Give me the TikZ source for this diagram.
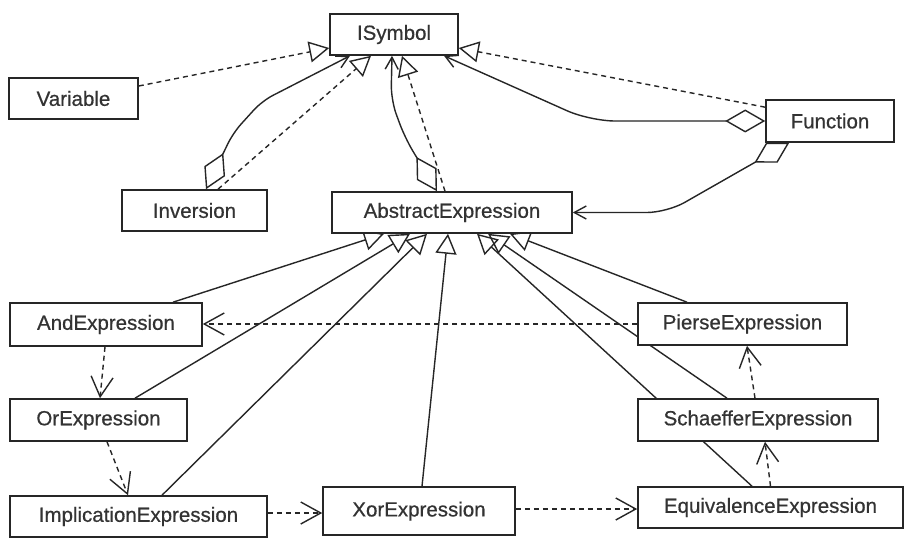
\documentclass[tikz,border=0pt]{standalone}
\usepackage{fontspec}
\setmainfont{Liberation Sans}
\newfontfamily\boxfont[RawFeature={embolden=0.6}]{Liberation Sans}
\usetikzlibrary{arrows.meta,calc}
\pgfdeclarelayer{bg}
\pgfdeclarelayer{edges}
\pgfsetlayers{bg,edges,main}
\begin{document}
\begin{tikzpicture}[x=1pt,y=-1pt,
  box/.style={draw=black!85, line width=1.6pt, fill=white, minimum height=41pt, inner sep=0pt,
    text=black!80, font=\boxfont\fontsize{20.5pt}{24pt}\selectfont},
  conn/.style={line width=1.4pt, draw=black!85},
  gen/.style={conn, -{Triangle[open,length=20pt,width=21pt,line width=1.4pt]}},
  real/.style={gen, dash pattern=on 5pt off 4pt},
  dep/.style={conn, dash pattern=on 5pt off 4pt, -{Straight Barb[length=20pt,width=22pt,line width=1.4pt]}},
  agg/.style={conn, {Diamond[open,length=40pt,width=23pt,line width=1.4pt]}-{Straight Barb[length=12pt,width=13pt,line width=1.4pt]}}
]
\begin{pgfonlayer}{bg}
\fill[white] (0,0) rectangle (907,540);
\end{pgfonlayer}
\useasboundingbox (0,0) rectangle (907,540);

\node[box, minimum width=128pt] (isym) at (394,34.5) {ISymbol};
\node[box, minimum width=129pt] (var) at (73.5,98.5) {Variable};
\node[box, minimum width=145pt] (inv) at (194.5,210.5) {Inversion};
\node[box, minimum width=240pt] (abs) at (452,212.5) {AbstractExpression};
\node[box, minimum width=128pt, minimum height=42pt] (func) at (830,121) {Function};
\node[box, minimum width=192pt, minimum height=43pt] (and) at (106,324.5) {AndExpression};
\node[box, minimum width=177pt, minimum height=42pt] (or) at (98.5,420) {OrExpression};
\node[box, minimum width=257pt] (impl) at (138.5,516.5) {ImplicationExpression};
\node[box, minimum width=192pt, minimum height=48pt, text depth=4pt] (xor) at (419,511) {XorExpression};
\node[box, minimum width=209pt, minimum height=42pt] (pierse) at (742.5,324) {PierseExpression};
\node[box, minimum width=240pt, minimum height=42pt] (sch) at (758,420) {SchaefferExpression};
\node[box, minimum width=265pt] (eq) at (770.5,507.5) {EquivalenceExpression};

\begin{pgfonlayer}{edges}
% to ISymbol
\draw[real] ([yshift=12.5pt]var.east) -- ([yshift=-13.5pt]isym.west);
\draw[real] ([xshift=23.5pt]inv.north) -- ([xshift=-23pt]isym.south);
\draw[agg, rounded corners=12pt] ([xshift=11.5pt]inv.north) -- (233,133) -- (262,101) -- ([xshift=-44pt]isym.south);
\draw[agg, rounded corners=15pt] ([xshift=-15pt]abs.north) -- (405,138) -- (391,100) -- ([xshift=-2pt]isym.south);
\draw[real] ([xshift=-7pt]abs.north) -- ([xshift=8pt]isym.south);
\draw[real] ([yshift=-8pt]func.north west) -- ([yshift=-13.5pt]isym.east);
\draw[agg, rounded corners=25pt] (func.west) -- (590,121) -- ([xshift=50pt]isym.south);
\draw[agg, rounded corners=20pt] ([xshift=24pt]func.south west) -- (667,212.5) -- (abs.east);
% generalizations to AbstractExpression
\draw[gen] ([xshift=67pt]and.north) -- ([xshift=-68pt]abs.south);
\draw[gen] ([xshift=36.5pt]or.north) -- ([xshift=-42pt]abs.south);
\draw[gen] ([xshift=23.5pt]impl.north) -- ([xshift=-25pt]abs.south);
\draw[gen] ([xshift=3pt]xor.north) -- ([xshift=-4pt]abs.south);
\draw[gen] ([xshift=-55.5pt]pierse.north) -- ([xshift=58pt]abs.south);
\draw[gen] ([xshift=-31pt]sch.north) -- ([xshift=36pt]abs.south);
\draw[gen] ([xshift=-18.5pt]eq.north) -- ([xshift=25pt]abs.south);
% dependencies
\draw[dep] (pierse.west) -- (pierse.west -| and.east);
\draw[dep] ([xshift=-1pt]and.south) -- ([xshift=1.5pt]or.north);
\draw[dep] ([xshift=8.5pt]or.south) -- ([xshift=-10.5pt]impl.north);
\draw[dep] ([yshift=3.5pt]impl.east) -- ([yshift=-2pt]xor.west);
\draw[dep] ([yshift=2pt]xor.east) -- ([yshift=-1.5pt]eq.west);
\draw[dep] (eq.north) -- ([xshift=7pt]sch.south);
\draw[dep] ([xshift=-3pt]sch.north) -- ([xshift=4.5pt]pierse.south);
\end{pgfonlayer}
\end{tikzpicture}
\end{document}
